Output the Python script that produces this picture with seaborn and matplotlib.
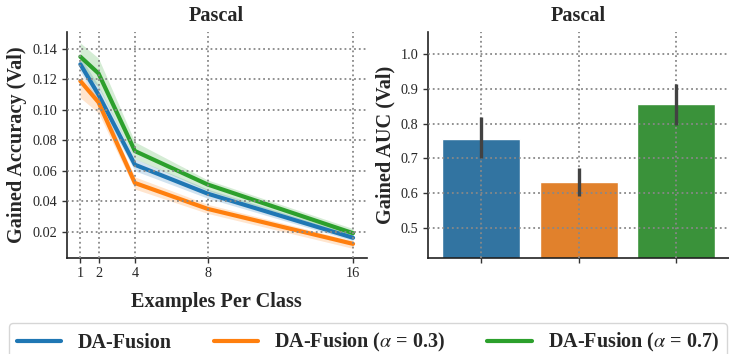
import matplotlib
matplotlib.use('Agg')
import matplotlib.pyplot as plt
import pandas as pd
import seaborn as sns
import numpy as np

sns.set_style('ticks')
plt.rcParams['font.family'] = ['Liberation Serif', 'DejaVu Serif']
plt.rcParams['mathtext.fontset'] = 'stix'

# data
shots = [1, 2, 4, 8, 16]
methods = ['DA-Fusion', r'DA-Fusion ($\alpha$ = 0.3)', r'DA-Fusion ($\alpha$ = 0.7)']

acc_base = [0.130, 0.110, 0.064, 0.045, 0.016]
acc_base_lo = [0.125, 0.104, 0.060, 0.042, 0.014]
acc_base_hi = [0.135, 0.116, 0.068, 0.048, 0.018]

acc_a03 = [0.119, 0.105, 0.052, 0.035, 0.012]
acc_a03_lo = [0.108, 0.098, 0.048, 0.032, 0.009]
acc_a03_hi = [0.123, 0.108, 0.056, 0.038, 0.014]

acc_a07 = [0.135, 0.124, 0.073, 0.051, 0.019]
acc_a07_lo = [0.127, 0.115, 0.068, 0.047, 0.017]
acc_a07_hi = [0.144, 0.134, 0.079, 0.054, 0.022]

auc_mean = [0.757, 0.632, 0.857]
auc_lo = [0.700, 0.593, 0.795]
auc_hi = [0.820, 0.672, 0.913]

colors = sns.color_palette('tab10', 3)

lines_df = pd.DataFrame({
    'shots': shots * 3,
    'acc': acc_base + acc_a03 + acc_a07,
    'method': [methods[0]] * 5 + [methods[1]] * 5 + [methods[2]] * 5,
})
bands = [(acc_base_lo, acc_base_hi), (acc_a03_lo, acc_a03_hi), (acc_a07_lo, acc_a07_hi)]
bars_df = pd.DataFrame({'method': methods, 'auc': auc_mean})

fig = plt.figure(figsize=(7.29, 3.54), dpi=100)
ax1 = fig.add_axes([0.0915, 0.272, 0.4115, 0.6367])
ax2 = fig.add_axes([0.5875, 0.272, 0.4125, 0.6367])

label_kw = dict(fontsize=14.6, fontweight='bold')
grid_kw = dict(color='#888888', linestyle=':', linewidth=1.3)

# left: line plot with bands
sns.lineplot(data=lines_df, x='shots', y='acc', hue='method', palette=colors,
             errorbar=None, linewidth=3, ax=ax1, legend=False)
for (lo, hi), c in zip(bands, colors):
    ax1.fill_between(shots, lo, hi, color=c, alpha=0.2, linewidth=0)
ax1.set_xticks(shots)
ax1.set_xlim(0.25, 16.75)
ax1.set_ylim(0.0029, 0.151)
ax1.set_yticks([0.02, 0.04, 0.06, 0.08, 0.10, 0.12, 0.14])
ax1.set_yticklabels(['0.02', '0.04', '0.06', '0.08', '0.10', '0.12', '0.14'])
ax1.set_xlabel('Examples Per Class', labelpad=8, **label_kw)
ax1.set_ylabel('Gained Accuracy (Val)', **label_kw)
ax1.set_title('Pascal', fontsize=14.6, fontweight='bold', pad=8)
ax1.grid(True, **grid_kw)
ax1.set_axisbelow(False)

# right: bar plot
sns.barplot(data=bars_df, x='method', y='auc', hue='method', palette=colors,
            errorbar=None, ax=ax2, legend=False)
ax2.vlines(range(len(methods)), auc_lo, auc_hi, color='#424242', linewidth=2.4, zorder=5)
ax2.set_ylim(0.4145, 1.063)
ax2.set_yticks([0.5, 0.6, 0.7, 0.8, 0.9, 1.0])
ax2.set_xticks(range(len(methods)))
ax2.set_xticklabels(['', '', ''])
ax2.set_xlabel('')
ax2.set_ylabel('Gained AUC (Val)', **label_kw)
ax2.set_title('Pascal', fontsize=14.6, fontweight='bold', pad=8)
ax2.grid(True, **grid_kw)
ax2.set_axisbelow(False)

for ax in (ax1, ax2):
    sns.despine(ax=ax)
    ax.tick_params(labelsize=10.3, length=3.5, width=1, color='#333333')
    for s in ('left', 'bottom'):
        ax.spines[s].set_linewidth(1.2)
        ax.spines[s].set_color('#222222')

handles = [plt.Line2D([], [], color=c, linewidth=3) for c in colors]
fig.legend(handles, methods, loc='upper left', ncol=3, mode='expand',
           bbox_to_anchor=(0.0123, 0.0, 0.985, 0.0876), borderaxespad=0,
           prop=dict(family='Liberation Serif', weight='bold', size=14.5),
           handlelength=2.2, frameon=True, edgecolor='#cccccc', fancybox=True)

fig.savefig('out.png', dpi=100)
